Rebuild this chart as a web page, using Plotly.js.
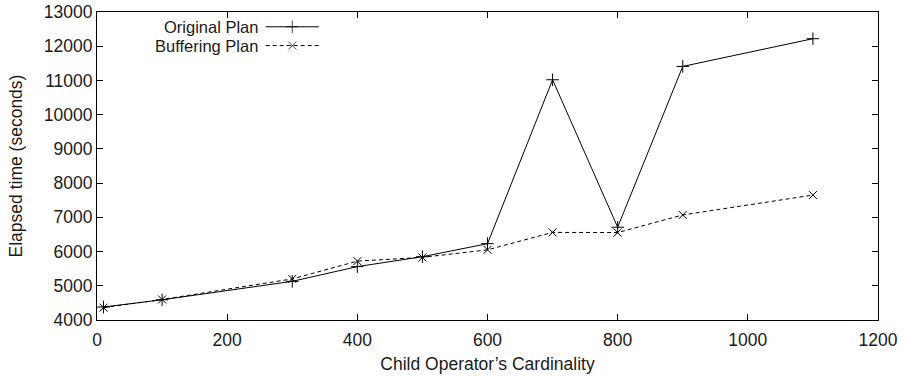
<!DOCTYPE html>
<html>
<head>
<meta charset="utf-8">
<script src="https://cdn.plot.ly/plotly-3.0.1.min.js"></script>
<style>html,body{margin:0;padding:0;background:#fff}#chart{width:905px;height:377px}</style>
</head>
<body>
<div id="chart"></div>
<script>
const cardinality = [10, 100, 300, 400, 500, 600, 700, 800, 900, 1100];
const originalPlan = [4380, 4590, 5130, 5560, 5850, 6230, 11020, 6710, 11410, 12220];
const bufferingPlan = [4360, 4600, 5200, 5720, 5830, 6050, 6560, 6555, 7070, 7650];
const seriesNames = ["Original Plan", "Buffering Plan"];
const xTicks = [0, 200, 400, 600, 800, 1000, 1200];
const yTicks = [4000, 5000, 6000, 7000, 8000, 9000, 10000, 11000, 12000, 13000];

const font = {family: "Liberation Sans, Arial, sans-serif", size: 17.5, color: "#1a1a1a"};
const legendFont = {family: "Liberation Sans, Arial, sans-serif", size: 16.5, color: "#1a1a1a"};

const traces = [
  {x: cardinality, y: originalPlan, name: seriesNames[0], mode: "lines+markers",
   line: {color: "#000", width: 1},
   marker: {symbol: "cross-thin-open", size: 9, color: "#000", line: {color: "#000", width: 1}}},
  {x: cardinality, y: bufferingPlan, name: seriesNames[1], mode: "lines+markers",
   line: {color: "#000", width: 1, dash: "4px,3px"},
   marker: {symbol: "x-thin-open", size: 8, color: "#000", line: {color: "#000", width: 1}}}
];

// gnuplot-style legend (text on the left, sample on the right)
const legX0 = 0.216, legX1 = 0.284, legXm = (legX0 + legX1) / 2;
const legY = [0.952, 0.891];
const shapes = [];
const annotations = [];
legY.forEach((yy, i) => {
  annotations.push({xref: "paper", yref: "paper", x: legX0 - 0.008, y: yy, xanchor: "right",
    yanchor: "middle", text: seriesNames[i], showarrow: false, font: legendFont, borderpad: 0});
  shapes.push({type: "line", xref: "paper", yref: "paper", x0: legX0, x1: legX1, y0: yy, y1: yy,
    line: {color: "#000", width: 1, dash: i === 1 ? "4px,3px" : "solid"}});
});

const layout = {
  width: 905, height: 377,
  margin: {l: 97, r: 27, t: 12, b: 57},
  paper_bgcolor: "#fff", plot_bgcolor: "#fff",
  font: font,
  showlegend: false,
  xaxis: {range: [0, 1200], tickvals: xTicks, ticks: "inside", ticklen: 6, tickwidth: 1,
    tickcolor: "#000", showline: true, linecolor: "#000", linewidth: 1, mirror: "allticks",
    showgrid: false, zeroline: false, tickfont: font, tickformat: "d", ticklabelstandoff: 4,
    title: {text: "Child Operator’s Cardinality", font: font, standoff: 8}},
  yaxis: {range: [4000, 13000], tickvals: yTicks, ticks: "inside", ticklen: 6, tickwidth: 1,
    tickcolor: "#000", showline: true, linecolor: "#000", linewidth: 1, mirror: "allticks",
    showgrid: false, zeroline: false, tickfont: font, tickformat: "d",
    title: {text: "Elapsed time (seconds)", font: font, standoff: 16}},
  shapes: shapes,
  annotations: annotations
};

// legend sample markers on a hidden overlay axis
traces.push({x: [legXm, legXm], y: legY, xaxis: "x2", yaxis: "y2", mode: "markers",
  hoverinfo: "skip", showlegend: false,
  marker: {symbol: ["cross-thin-open", "x-thin-open"], size: [9, 8], color: "#000",
    line: {color: "#000", width: 1}}});
layout.xaxis2 = {overlaying: "x", range: [0, 1], visible: false, fixedrange: true};
layout.yaxis2 = {overlaying: "y", range: [0, 1], visible: false, fixedrange: true};

Plotly.newPlot("chart", traces, layout, {displayModeBar: false, staticPlot: true});
</script>
</body>
</html>
